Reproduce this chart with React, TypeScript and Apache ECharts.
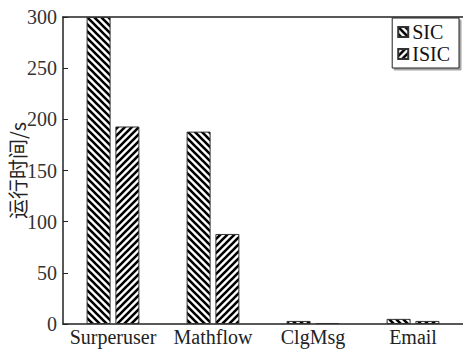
import React, { useEffect, useRef } from "react";
import * as echarts from "echarts";

const categories = ["Surperuser", "Mathflow", "ClgMsg", "Email"];
const sicValues = [300, 188, 3, 5];
const isicValues = [193, 88, 1, 3];
const yTicks = [0, 50, 100, 150, 200, 250, 300];

const SERIF = "Liberation Serif";

// Diagonal hatch tile as an SVG data URL; dir "back" = "\", "fwd" = "/"
function hatch(dir: "back" | "fwd"): string {
  const s = 7;
  const d =
    dir === "back"
      ? `M-2,-2 L9,9 M-6,1 L6,13 M1,-6 L13,6`
      : `M-2,9 L9,-2 M-6,6 L6,-6 M1,13 L13,1`;
  const svg = `<svg xmlns='http://www.w3.org/2000/svg' width='${s}' height='${s}'><rect width='${s}' height='${s}' fill='white'/><path d='${d}' stroke='black' stroke-width='2.6'/></svg>`;
  return "data:image/svg+xml;charset=utf-8," + encodeURIComponent(svg);
}

export default function App() {
  const ref = useRef<HTMLDivElement>(null);

  useEffect(() => {
    document.body.style.margin = "0";
    const chart = echarts.init(ref.current!, null, { renderer: "svg" });
    const pattern = (dir: "back" | "fwd") => ({
      image: hatch(dir),
      repeat: "repeat",
      imageWidth: 7,
      imageHeight: 7,
    });
    chart.setOption({
      animation: false,
      backgroundColor: "#fff",
      textStyle: { fontFamily: SERIF },
      grid: {
        left: 63,
        right: 0,
        top: 17,
        bottom: 26,
        containLabel: false,
        outerBoundsMode: "none",
      },
      legend: {
        right: 4,
        top: 18,
        orient: "vertical",
        itemWidth: 10,
        itemHeight: 10,
        itemGap: 2,
        padding: [4, 9, 4, 5],
        borderColor: "#222",
        borderWidth: 1,
        shadowColor: "rgba(0,0,0,0.35)",
        shadowOffsetX: 2,
        shadowOffsetY: 2,
        backgroundColor: "#fff",
        icon: "rect",
        textStyle: { fontFamily: SERIF, fontSize: 20, color: "#111", padding: [0, 0, 0, -1] },
        data: ["SIC", "ISIC"],
      },
      xAxis: [
        {
          type: "category",
          data: categories,
          axisLine: { lineStyle: { color: "#222", width: 1.5 } },
          axisTick: { show: false },
          axisLabel: { interval: 0, fontFamily: SERIF, fontSize: 20, color: "#222", margin: 3 },
        },
        {
          type: "category",
          position: "top",
          data: categories,
          axisLine: { lineStyle: { color: "#222", width: 1.5 } },
          axisTick: { show: false },
          axisLabel: { show: false },
        },
      ],
      yAxis: {
        type: "value",
        min: yTicks[0],
        max: yTicks[yTicks.length - 1],
        interval: 50,
        name: "运行时间/s",
        nameLocation: "middle",
        nameGap: 36,
        nameRotate: 90,
        nameMoveOverlap: false,
        nameTextStyle: { fontFamily: "Noto Sans CJK SC", fontSize: 20, color: "#222" },
        axisLine: { show: true, lineStyle: { color: "#222", width: 1.5 } },
        axisTick: { show: true, inside: true, length: 5, lineStyle: { color: "#222" } },
        splitLine: { show: false },
        axisLabel: { fontFamily: SERIF, fontSize: 20, color: "#333", margin: 6 },
      },
      series: [
        {
          name: "SIC",
          type: "bar",
          data: sicValues,
          barWidth: 24,
          barGap: "20%",
          itemStyle: { color: pattern("back"), borderColor: "#333", borderWidth: 1 },
        },
        {
          name: "ISIC",
          type: "bar",
          data: isicValues,
          barWidth: 24,
          itemStyle: { color: pattern("fwd"), borderColor: "#333", borderWidth: 1 },
        },
      ],
    });
    return () => chart.dispose();
  }, []);

  return <div ref={ref} style={{ width: 463, height: 350 }} />;
}
